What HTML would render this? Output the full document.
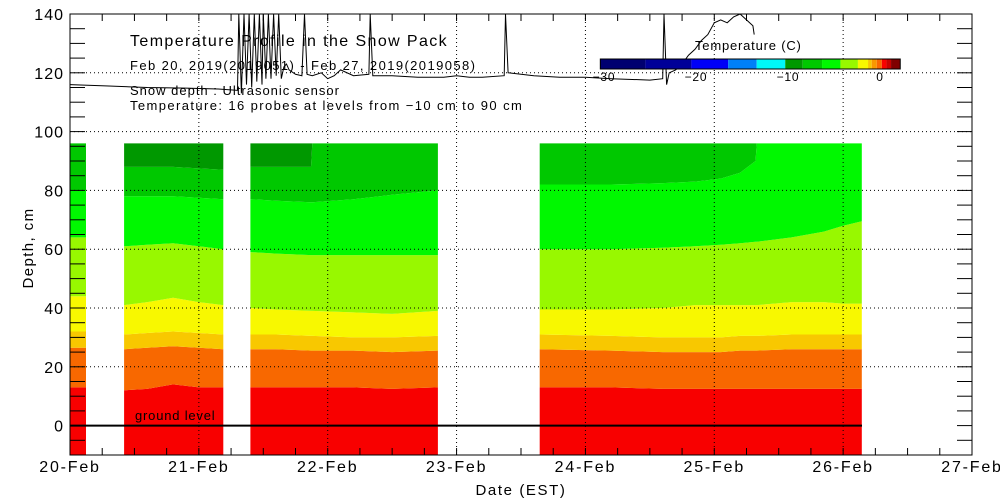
<!DOCTYPE html>
<html><head><meta charset="utf-8"><style>
body{margin:0;background:#fff;}
svg{display:block;font-family:"Liberation Sans","DejaVu Sans",sans-serif;}
</style></head><body>
<svg id="chart" width="1000" height="500" viewBox="0 0 1000 500" xmlns="http://www.w3.org/2000/svg">
<defs><clipPath id="plotclip"><rect x="70" y="14" width="902" height="441"/></clipPath></defs>
<rect x="0" y="0" width="1000" height="500" fill="#fff"/>
<g id="bands" clip-path="url(#plotclip)"></g>
<g id="grid"></g>
<g id="snow" clip-path="url(#plotclip)"></g>
<line x1="70" y1="425.6" x2="862" y2="425.6" stroke="#000" stroke-width="2"/>
<text x="135" y="420" font-size="13" letter-spacing="0.8">ground level</text>
<g id="axes"></g>
<rect x="70" y="14" width="902" height="441" fill="none" stroke="#000" stroke-width="1"/>
<text x="130" y="46" font-size="16" letter-spacing="1.4">Temperature Profile in the Snow Pack</text>
<text x="130" y="70" font-size="13" letter-spacing="1.4">Feb 20, 2019(2019051) - Feb 27, 2019(2019058)</text>
<text x="130" y="95" font-size="13" letter-spacing="1">Snow depth : Ultrasonic sensor</text>
<text x="130" y="110" font-size="13" letter-spacing="1.4">Temperature: 16 probes at levels from −10 cm to 90 cm</text>
<g id="colorbar"></g>
<text x="695" y="50" font-size="13" letter-spacing="0.8">Temperature (C)</text>
<text x="33" y="248" font-size="15" letter-spacing="1.4" text-anchor="middle" transform="rotate(-90 33 248)">Depth, cm</text>
<text x="521" y="495" font-size="15" letter-spacing="1.6" text-anchor="middle">Date (EST)</text>
</svg>
<script>
const NS='http://www.w3.org/2000/svg';
// axes
const X0=70,X1=972,Y0=455,Y1=14,YMIN=-10,YMAX=140,DAYS=7;
function xs(d){return X0+(X1-X0)*d/DAYS;}
function ys(v){return Y0-(Y0-Y1)*(v-YMIN)/(YMAX-YMIN);}
function mk(tag,attrs,parent){const e=document.createElementNS(NS,tag);for(const k in attrs)e.setAttribute(k,attrs[k]);parent.appendChild(e);return e;}

// data
const dayLabels=['20-Feb','21-Feb','22-Feb','23-Feb','24-Feb','25-Feb','26-Feb','27-Feb'];
const yTicks=[0,20,40,60,80,100,120,140];
const bandColors=['#f80000','#f86800','#f8c800','#f8f800','#98f800','#00f800','#00c800','#009800'];
// block 1
const b1Times=[0,0.124];
const b1Bounds=[[13,13],[26.5,26.5],[32,32],[44,44],[64,64],[80,80],[96,96],[96,96]];
// block 2
const b2Times=[0.42,0.6,0.8,1.0,1.19];
const b2Bounds=[[12,12.5,14,13,13],[26,26.5,27,26.5,26],[31,31.5,32,31.5,31],[41,42,43.5,42,41],[61,61.5,62,61,60],[78,78,78,77.5,77],[88,88,88,87.5,87],[96,96,96,96,96]];
// block 3
const b3Times=[1.40,1.6,1.87,1.88,2.2,2.5,2.855];
const b3Bounds=[[13,13,13,13,13,12.5,13],[26,26,25.5,25.5,25.5,25,25.5],[31,31,30.5,30.5,30,30,30.5],[40,39.5,39,39,38.5,38,39],[59,58.5,58,58,58,58,58],[77,76.5,76,76,77,78.5,80],[88,88,88,96,96,96,96],[96,96,96,96,96,96,96]];
// block 4
const b4Times=[3.645,4.2,4.6,4.85,5.05,5.2,5.32,5.33,5.6,5.85,6.0,6.145];
const b4Bounds=[[13,13,12.5,12.5,12.5,12.5,12.5,12.5,12.5,12.5,12.5,12.5],[26,25.5,25,25,25,25.5,25.5,25.5,26,26,26,26],[31,30.5,30,30,30,30.5,30.5,30.5,31,31,31,31],[39.5,39.5,40,41,41,41,41,41,42,42,41.5,41.5],[60,60,60.5,61,61.5,62,62.5,62.5,64,66,68,69.5],[82,82,82.5,83,84,86,90,96,96,96,96,96],[96,96,96,96,96,96,96,96,96,96,96,96],[96,96,96,96,96,96,96,96,96,96,96,96]];
const blocks=[[b1Times,b1Bounds],[b2Times,b2Bounds],[b3Times,b3Bounds],[b4Times,b4Bounds]];
// snow depth
const snowTimes=[0,0.3,0.6,0.9,1.15,1.3,1.31,1.33,1.35,1.37,1.39,1.41,1.43,1.45,1.47,1.49,1.5,1.52,1.54,1.56,1.58,1.6,1.62,1.64,1.66,1.68,1.7,1.75,1.8,1.82,1.84,1.88,1.95,2.0,2.05,2.1,2.2,2.32,2.33,2.35,2.5,2.7,2.9,3.0,3.1,3.2,3.37,3.38,3.4,3.6,3.8,4.0,4.2,4.5,4.6,4.61,4.63,4.65,4.7,4.75,4.8,4.85,4.9,4.95,5.0,5.05,5.1,5.15,5.2,5.25,5.3,5.31];
const snowVals=[116,115.5,115,114.8,114.5,114,140,113,140,116,140,115,140,117,140,116,140,118,140,118,140,119,140,118,122,123,121,119.5,119,140,119.5,119,120,118,119,121,119,119.5,140,119,119,118.5,118.5,119,118.5,118.5,119,140,120,119,118.5,118.5,118,117.5,118,140,116,120,121,123,126,128,131,133,137,138,137,139,140,138,136,133];

// bands
const bandG=document.getElementById('bands');
blocks.forEach(([times,bounds],bi)=>{
  for(let k=0;k<bandColors.length;k++){
    const lower=k===0?null:bounds[k-1];
    const upper=bounds[k];
    const pts=[];
    times.forEach((t,i)=>pts.push(xs(t).toFixed(1)+','+ys(upper[i]).toFixed(1)));
    for(let i=times.length-1;i>=0;i--)pts.push(xs(times[i]).toFixed(1)+','+ys(lower?lower[i]:YMIN).toFixed(1));
    const p=mk('polygon',{points:pts.join(' '),fill:bandColors[k]},bandG);
    
    
  }
});

// grid
const gridG=document.getElementById('grid');
yTicks.forEach(v=>{if(v>0&&v<140){const l=mk('line',{x1:X0,x2:X1,y1:ys(v),y2:ys(v),stroke:'#000','stroke-width':1,'stroke-dasharray':'1,3'},gridG);

}});
for(let d=1;d<DAYS;d++){const l=mk('line',{x1:xs(d),x2:xs(d),y1:Y0,y2:Y1,stroke:'#000','stroke-width':1,'stroke-dasharray':'1,3'},gridG);

}

// snow line
const snowG=document.getElementById('snow');
const sp=mk('polyline',{points:snowTimes.map((t,i)=>xs(t).toFixed(1)+','+ys(snowVals[i]).toFixed(1)).join(' '),fill:'none',stroke:'#000','stroke-width':1},snowG);



// axes ticks & labels
const axG=document.getElementById('axes');
for(let v=-10;v<=140;v+=5){
  [[X0,X0+15],[X1-15,X1]].forEach(([a,b])=>{const l=mk('line',{x1:a,x2:b,y1:ys(v),y2:ys(v),stroke:'#000','stroke-width':1},axG);
  
  });
}
yTicks.forEach(v=>{const t=mk('text',{x:X0-6,y:ys(v)+6,'font-size':16,'letter-spacing':1,'text-anchor':'end'},axG);t.textContent=v;

});
for(let q=0;q<=DAYS*4;q++){
  const x=xs(q/4);
  [[Y0,Y0-7],[Y1,Y1+7]].forEach(([a,b])=>{const l=mk('line',{x1:x,x2:x,y1:a,y2:b,stroke:'#000','stroke-width':1},axG);
  
  });
}
dayLabels.forEach((s,i)=>{const t=mk('text',{x:xs(i),y:472,'font-size':16,'letter-spacing':1.8,'text-anchor':'middle'},axG);t.textContent=s;

});

// colorbar
const cbBreaks=[-30.4,-25.5,-20.5,-16.5,-13.4,-10.3,-8.4,-6.3,-4.3,-2.4,-1.3,-0.9,-0.35,0.2,0.7,1.2,2.2];
const cbColors=['#000070','#000098','#0000f8','#0080f8','#00f8f8','#009800','#00c800','#00f800','#98f800','#f8f800','#f8c800','#f89800','#f86800','#f80000','#c80000','#800000'];
const cbLabels=[-30,-20,-10,0];
function cx(v){return 880+9.2*v;}
const cbG=document.getElementById('colorbar');
cbColors.forEach((c,i)=>{const r=mk('rect',{x:cx(cbBreaks[i]),y:59,width:cx(cbBreaks[i+1])-cx(cbBreaks[i]),height:10,fill:c},cbG);

});
const fr=mk('rect',{x:cx(cbBreaks[0]),y:59,width:cx(cbBreaks[16])-cx(cbBreaks[0]),height:10,fill:'none',stroke:'#000'},cbG);


cbLabels.forEach(v=>{const t=mk('text',{x:cx(v),y:81,'font-size':12,'letter-spacing':0.8,'text-anchor':'middle'},cbG);t.textContent=v<0?'−'+(-v):v;

});
</script>
</body></html>
